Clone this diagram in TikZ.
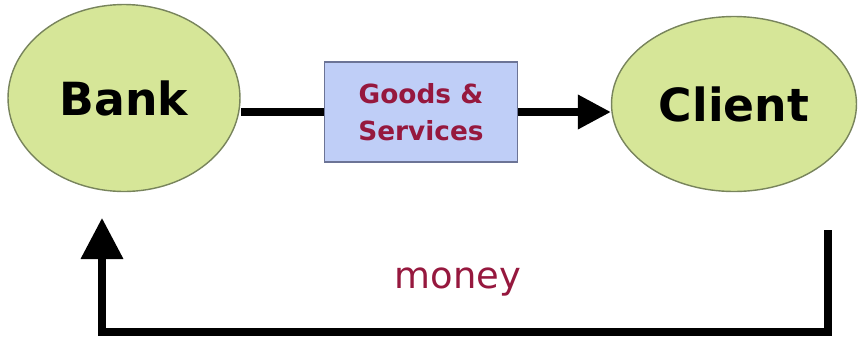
\documentclass[tikz,border=0pt]{standalone}
\usepackage{fontspec}
\setmainfont{DejaVu Sans}
\usepackage{tikz}
\usetikzlibrary{shapes.geometric}
\usetikzlibrary{arrows.meta}
\definecolor{palegreen}{RGB}{214,230,152}
\definecolor{olivegray}{RGB}{120,132,92}
\definecolor{paleblue}{RGB}{191,206,247}
\definecolor{slateblue}{RGB}{108,116,150}
\definecolor{darkred}{RGB}{150,24,62}

\begin{document}
\begin{tikzpicture}[x=0.02cm,y=-0.02cm,
    party/.style={ellipse, draw=olivegray, line width=0.8pt, fill=palegreen, inner sep=0pt,
      font=\fontsize{26}{30}\selectfont\bfseries},
    flow/.style={line width=4pt, black},
    tip/.style={-{Triangle[length=#1,width=#1]}}]
  \useasboundingbox (0,0) rectangle (858,342);

  % Drawing the two parties
  \node [party, minimum width=4.64cm, minimum height=3.74cm] (bank) at (124,98) {Bank};
  \node [party, minimum width=4.9cm, minimum height=3.5cm] (client) at (734,104) {Client};

  % Drawing the exchanged item
  \node [draw=slateblue, line width=0.8pt, fill=paleblue, minimum width=3.86cm, minimum height=2cm,
    align=center, text=darkred, font=\fontsize{15}{21}\selectfont\bfseries] (goods) at (421,112)
    {Goods \&\\Services};
  \draw [flow] (goods.west) -- (goods.west -| bank.east);
  \draw [flow, tip=0.66cm] (goods.east) -- (goods.east -| client.west);

  % Drawing the payment back
  \coordinate (payout) at (828,230);
  \coordinate (corner) at (828,332);
  \coordinate (payin) at (102,218);
  \draw [flow, tip=0.82cm] (payout) -- (corner) -| (payin);
  \node [text=darkred, font=\fontsize{21}{25}\selectfont] (money) at (458,282) {money};
\end{tikzpicture}
\end{document}
